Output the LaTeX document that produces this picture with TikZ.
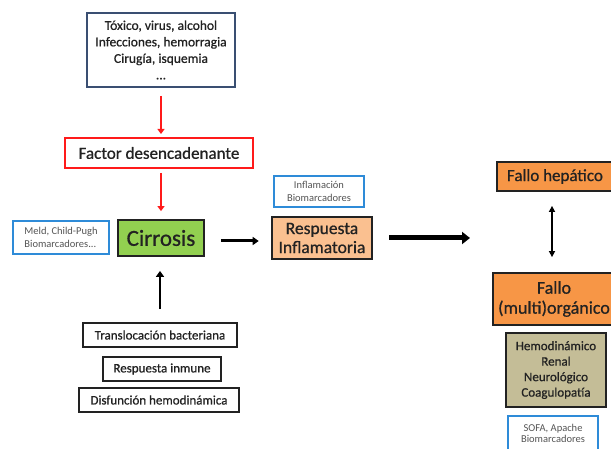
\documentclass[tikz,border=0pt]{standalone}
\usepackage{fontspec}
\setmainfont{Carlito}[FakeBold=0.7]
\newfontfamily\thinfont{Carlito}
\usetikzlibrary{arrows.meta}
\definecolor{cgreen}{HTML}{92D050}
\definecolor{clorange}{HTML}{FAC090}
\definecolor{corange}{HTML}{F79646}
\definecolor{ctan}{HTML}{C4BD97}
\definecolor{cblue}{HTML}{2E8BD8}
\definecolor{cnavy}{HTML}{3A4F72}
\definecolor{cred}{HTML}{FF1A1A}
\definecolor{cdark}{HTML}{222222}
\definecolor{cgraytext}{HTML}{555555}
\newcommand{\fsz}[2]{\fontsize{#1}{#2}\selectfont}
\begin{document}
\begin{tikzpicture}[x=1pt,y=-1pt,
  box/.style={draw, inner sep=0pt, align=center, text=cdark},
  bluebox/.style={box, draw=cblue, line width=1.8pt, text=cgraytext, font=\thinfont\fsz{10.5}{13}},
  blackbox/.style={box, draw=cdark, line width=1.8pt, font=\fsz{13}{15}},
  redarrow/.style={draw=cred, line width=2.4pt, -{Triangle[width=7pt,length=5pt]}},
  blackarrow/.style={draw=black, line width=3pt, -{Triangle[width=8pt,length=6pt]}}
]
\useasboundingbox (0,0) rectangle (611,449);
\clip (0,0) rectangle (611,449);
\fill[white] (0,0) rectangle (611,449);

% top causes box
\node[box, draw=cnavy, line width=1.8pt, minimum width=148pt, minimum height=74pt,
      font=\fsz{13.5}{16.5}] (causes) at (161,50)
  {Tóxico, virus, alcohol\\Infecciones, hemorragia\\Cirugía, isquemia\\...};

% trigger
\node[box, draw=cred, line width=2pt, minimum width=188pt, minimum height=30pt,
      font=\fsz{17}{19}] (factor) at (159,153) {Factor desencadenante};

% cirrhosis
\node[box, fill=cgreen, draw=cdark, line width=1.8pt, minimum width=86pt, minimum height=36pt,
      font=\fsz{23}{26}] (cirr) at (161,238) {Cirrosis};

% scores
\node[bluebox, minimum width=96pt, minimum height=33pt, align=left] (meld) at (61,237.5)
  {Meld, Child-Pugh\\Biomarcadores...};

% inflammatory response
\node[bluebox, minimum width=90pt, minimum height=31pt] (infl) at (319,191.5)
  {Inflamación\\Biomarcadores};
\node[box, fill=clorange, draw=cdark, line width=2.6pt, minimum width=100pt, minimum height=42pt,
      font=\fsz{17.5}{19}] (resp) at (322,238) {Respuesta\\Inflamatoria};

% liver failure
\node[box, fill=corange, draw=cdark, line width=1.8pt, minimum width=116pt, minimum height=29pt,
      font=\fsz{17}{18}] (fh) at (555,176.5) {Fallo hepático};
\node[box, fill=corange, draw=cdark, line width=1.8pt, minimum width=122pt, minimum height=52pt,
      font=\fsz{18}{20}] (fm) at (554,299) {Fallo\\(multi)orgánico};
\node[box, fill=ctan, draw=cdark, line width=1.8pt, minimum width=100pt, minimum height=74pt,
      font=\fsz{13}{15.5}] (organs) at (556,370)
  {Hemodinámico\\Renal\\Neurológico\\Coagulopatía};
\node[bluebox, minimum width=90pt, minimum height=48pt] (sofa) at (553,440) {};
\node[inner sep=0pt, align=center, text=cgraytext, font=\thinfont\fsz{10.5}{11}] (sofat) at (553,433)
  {SOFA, Apache\\Biomarcadores};

% precipitants
\node[blackbox, minimum width=154pt, minimum height=24pt] (trans) at (160,335) {Translocación bacteriana};
\node[blackbox, minimum width=118pt, minimum height=24pt] (inm) at (162,369) {Respuesta inmune};
\node[blackbox, minimum width=160pt, minimum height=24pt] (disf) at (159,400) {Disfunción hemodinámica};

% connectors
\draw[redarrow, shorten <=8pt, shorten >=3pt] (causes.south) -- (causes.south |- factor.north);
\draw[redarrow, shorten <=4pt, shorten >=8pt] (cirr.north |- factor.south) -- (cirr.north);
\draw[blackarrow, line width=2.8pt, shorten <=13pt, shorten >=14pt] ([xshift=-1pt]cirr.south |- trans.north) -- ([xshift=-1pt]cirr.south);
\draw[blackarrow, shorten <=16pt, shorten >=12pt] ([yshift=-3pt]cirr.east) -- ([yshift=-3pt]cirr.east -| resp.west);
\coordinate (bigend) at (470,238);
\draw[draw=black, line width=5pt, -{Triangle[width=12pt,length=8pt]}, shorten <=16pt] (resp.east) -- (bigend);
\draw[draw=black, line width=1.8pt, {Triangle[width=6pt,length=6pt]}-{Triangle[width=6pt,length=6pt]},
      shorten <=14pt, shorten >=15pt] ([xshift=-3pt]fh.south) -- ([xshift=-3pt]fh.south |- fm.north);
\end{tikzpicture}
\end{document}
